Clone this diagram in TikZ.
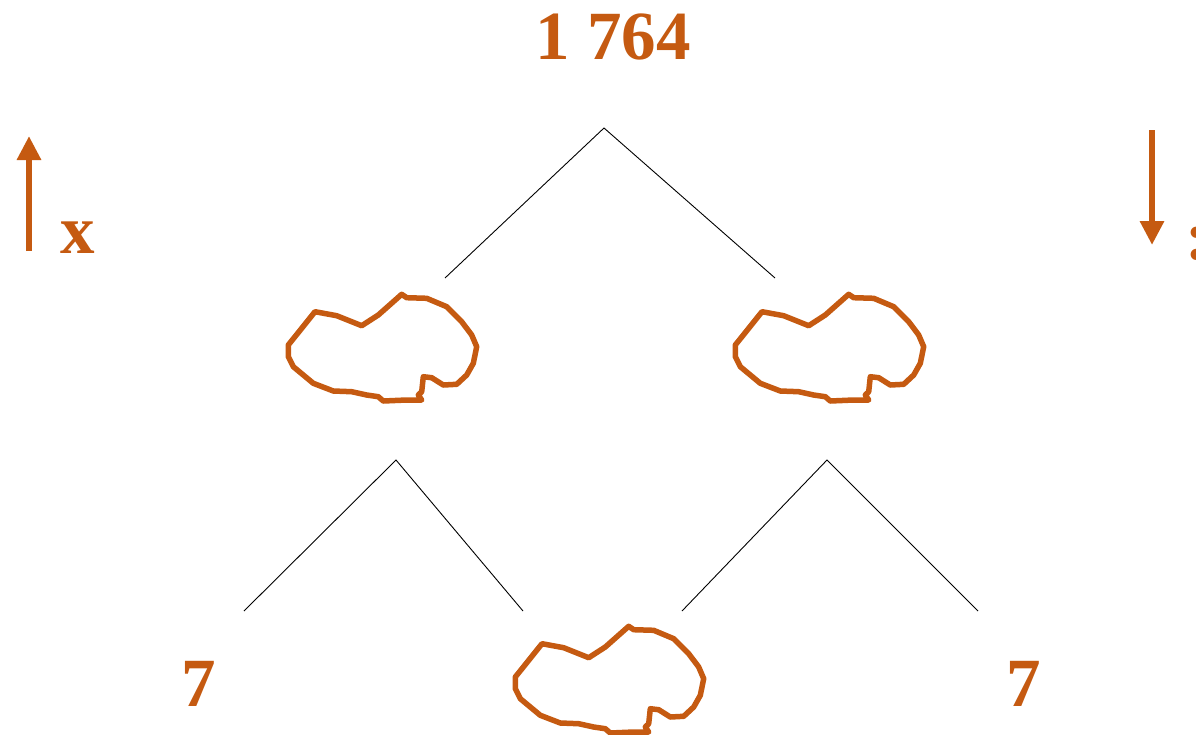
\documentclass[tikz,border=0pt]{standalone}
\usepackage{fontspec}
\setmainfont{Liberation Serif}
\usetikzlibrary{arrows.meta}
\definecolor{rust}{RGB}{197,90,17}
\tikzset{
  num/.style={text=rust, font=\fontsize{69}{75}\selectfont\bfseries, inner sep=0pt},
  branch/.style={draw=black, line width=0.9pt},
  bigarrow/.style={draw=rust, line width=6.5pt, -{Triangle[width=23pt,length=24pt]}},
  blob/.style={draw=rust, line width=5.5pt, line join=round},
  pics/cloud/.style={code={
    \draw[blob] (0.3,0) -- (27,-33.3) -- (48.7,-29.3) -- (73.7,-19.3) -- (90.3,-30) -- (113.7,-50.7)
      -- (118.7,-47.3) -- (138.7,-46.7) -- (158.7,-38.3) -- (173.7,-23.3) -- (183.7,-10)
      -- (188.7,1.7) -- (185.3,18.3) -- (178.7,30) -- (168.7,39.3) -- (155.3,40) -- (143.7,32.7)
      -- (135.3,31.7) -- (133.7,46.7) -- (130.3,50) -- (133.7,55) -- (118.7,55) -- (95.3,56)
      -- (90.3,51.7) -- (78.7,50) -- (63.7,46.7) -- (45.3,46) -- (25.3,38.3) -- (5.3,21.7)
      -- (0.3,11.7) -- cycle;
  }}
}
\begin{document}
\begin{tikzpicture}[x=1pt,y=-1pt]
\useasboundingbox (0,0) rectangle (1196,734);
% texts
\node[num] (top) at (613,37) {1 764};
\node[num] (sevenL) at (199,684) {7};
\node[num] (sevenR) at (1024,684) {7};
\node[num, anchor=base] (xlab) at (78,253) {x};
\node[num, anchor=base] (div) at (1197,259) {:};
% arrows
\coordinate (upS) at (29,251);
\coordinate (upE) at (29,136);
\coordinate (dnS) at (1152,130);
\coordinate (dnE) at (1152,245);
\draw[bigarrow] (upS) -- (upE);
\draw[bigarrow] (dnS) -- (dnE);
% clouds
\pic (c1) at (288,345) {cloud};
\pic (c2) at (735,345) {cloud};
\pic (c3) at (515,677) {cloud};
% branches
\coordinate (a0) at (604,128);
\coordinate (a0l) at (445,278);
\coordinate (a0r) at (775,278);
\coordinate (a1) at (396,460);
\coordinate (a1l) at (244,611);
\coordinate (a1r) at (523,611);
\coordinate (a2) at (827,460);
\coordinate (a2l) at (682,611);
\coordinate (a2r) at (978,611);
\draw[branch] (a0l) -- (a0) -- (a0r);
\draw[branch] (a1l) -- (a1) -- (a1r);
\draw[branch] (a2l) -- (a2) -- (a2r);
\end{tikzpicture}
\end{document}
